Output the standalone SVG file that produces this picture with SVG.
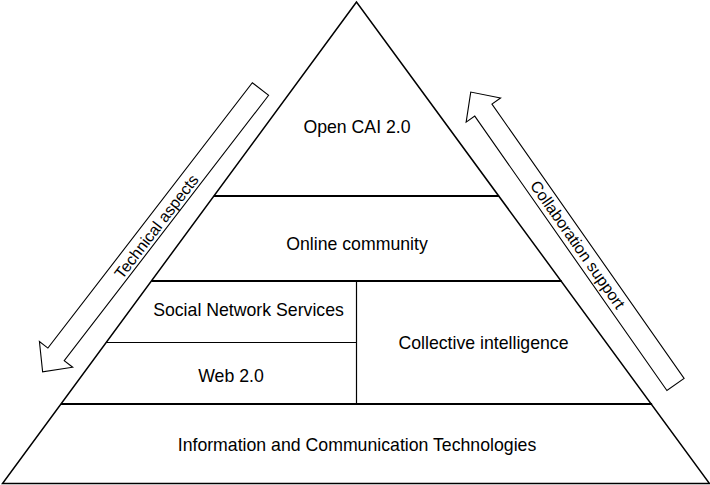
<svg xmlns="http://www.w3.org/2000/svg" width="710" height="485" viewBox="0 0 710 485">
<style>
  .lbl{font-family:"Liberation Sans",Arial,sans-serif;font-size:17.7px;fill:#000;text-anchor:middle}
  .albl{font-family:"Liberation Sans",Arial,sans-serif;font-size:16px;fill:#000;text-anchor:middle;dominant-baseline:central}
  .edge{fill:none;stroke:#000;stroke-width:1.5;stroke-linejoin:miter}
  .bar{fill:none;stroke:#000;stroke-width:2}
  .thin{fill:none;stroke:#000;stroke-width:1.2}
  .arrow{fill:#fff;stroke:#000;stroke-width:1.1;stroke-linejoin:miter}
</style>
<rect width="710" height="485" fill="#fff"/>
<g id="pyramid">
  <polygon class="edge" points="356.5,2 2.5,483.5 709.5,483.5"/>
</g>
<g id="connectors">
  <line class="bar" x1="213.9" y1="196" x2="499.1" y2="196"/>
  <line class="bar" x1="151.4" y1="281" x2="561.6" y2="281"/>
  <line class="thin" x1="106.5" y1="342.5" x2="356.5" y2="342.5"/>
  <line class="thin" x1="356.5" y1="281" x2="356.5" y2="404"/>
  <line class="bar" x1="60.9" y1="404" x2="652.1" y2="404"/>
</g>
<g id="n-open-cai">
  <text class="lbl" x="357" y="133">Open CAI 2.0</text>
</g>
<g id="n-online-community">
  <text class="lbl" x="357" y="250">Online community</text>
</g>
<g id="n-sns">
  <text class="lbl" x="248.5" y="316">Social Network Services</text>
</g>
<g id="n-web20">
  <text class="lbl" x="231" y="381.5">Web 2.0</text>
</g>
<g id="n-collective">
  <text class="lbl" x="483.5" y="348.5">Collective intelligence</text>
</g>
<g id="n-ict">
  <text class="lbl" x="357" y="451">Information and Communication Technologies</text>
</g>
<g id="arrow-technical">
  <path class="arrow" transform="translate(260.5,89) rotate(127.61)" d="M0,-10.3 H335 V-21 L357,0 L335,21 V10.3 H0 Z"/>
  <text class="albl" transform="translate(156.5,226.5) rotate(-52.4)">Technical aspects</text>
</g>
<g id="arrow-collaboration">
  <path class="arrow" transform="translate(675.5,384.5) rotate(-125)" d="M0,-10.5 H335 V-21 L357,0 L335,21 V10.5 H0 Z"/>
  <text class="albl" transform="translate(577.6,244.6) rotate(55)">Collaboration support</text>
</g>
</svg>
